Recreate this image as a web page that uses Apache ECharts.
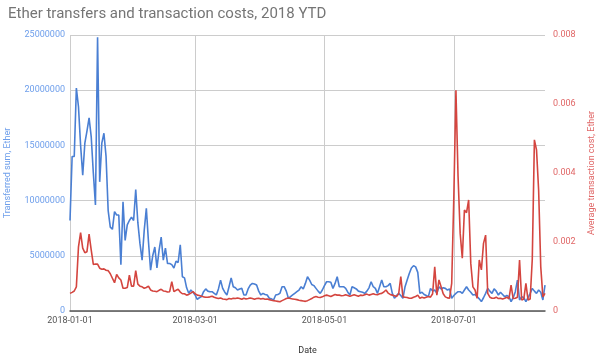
<!DOCTYPE html>
<html>
<head>
<meta charset="utf-8">
<script src="https://cdn.jsdelivr.net/npm/echarts@6/dist/echarts.min.js"></script>
<style>
html,body{margin:0;padding:0;background:#fff;}
#chart{width:600px;height:354px;}
</style>
</head>
<body>
<div id="chart"></div>
<script>
// Daily dates start
var startDate = '2018-01-01';
var tickDates = ['2018-01-01', '2018-03-01', '2018-05-01', '2018-07-01'];

// Transferred sum, Ether (daily)
var transferred = [
  8.2e6, 14.0e6, 14.0e6, 20.2e6, 18.5e6, 15.0e6, 12.3e6, 15.2e6, 16.3e6, 17.5e6,
  15.8e6, 12.5e6, 9.6e6, 24.8e6, 11.7e6, 15.2e6, 16.1e6, 14.0e6, 9.1e6, 7.6e6,
  7.4e6, 9.0e6, 8.7e6, 8.7e6, 4.2e6, 9.9e6, 6.4e6, 7.8e6, 8.2e6, 8.5e6,
  8.2e6, 11.0e6, 8.0e6, 6.1e6, 4.6e6, 7.3e6, 9.3e6, 6.3e6, 3.7e6, 5.0e6,
  5.8e6, 3.9e6, 5.5e6, 6.7e6, 4.6e6, 5.7e6, 4.3e6, 4.3e6, 4.2e6, 3.9e6,
  4.5e6, 4.4e6, 6.0e6, 3.1e6, 3.0e6, 2.1e6, 1.6e6, 1.9e6, 1.7e6, 1.45e6,
  1.06e6, 1.2e6, 1.3e6, 1.75e6, 2.0e6, 1.8e6, 1.75e6, 1.75e6, 1.6e6, 1.45e6,
  2.0e6, 2.8e6, 2.05e6, 1.7e6, 1.45e6, 2.2e6, 3.0e6, 2.2e6, 2.1e6, 1.9e6,
  2.0e6, 2.05e6, 1.45e6, 1.45e6, 2.0e6, 2.35e6, 2.5e6, 2.45e6, 2.35e6, 1.8e6,
  1.45e6, 1.6e6, 1.5e6, 1.45e6, 1.15e6, 1.1e6, 1.0e6, 1.45e6, 1.5e6, 1.6e6,
  2.2e6, 2.2e6, 1.8e6, 1.15e6, 1.3e6, 1.45e6, 1.6e6, 1.75e6, 1.9e6, 2.2e6,
  2.0e6, 2.5e6, 3.1e6, 2.8e6, 2.4e6, 2.3e6, 2.05e6, 1.8e6, 1.6e6, 1.9e6,
  2.3e6, 2.65e6, 2.65e6, 2.6e6, 2.05e6, 2.5e6, 3.1e6, 2.2e6, 2.2e6, 2.2e6,
  2.05e6, 1.7e6, 1.45e6, 2.2e6, 2.1e6, 2.0e6, 1.8e6, 1.75e6, 1.7e6, 1.6e6,
  1.8e6, 2.1e6, 2.65e6, 2.2e6, 2.05e6, 1.6e6, 2.2e6, 2.8e6, 2.2e6, 2.2e6,
  2.3e6, 2.5e6, 1.6e6, 1.15e6, 1.4e6, 1.6e6, 1.4e6, 1.15e6, 2.2e6, 2.8e6,
  3.4e6, 3.9e6, 4.1e6, 4.0e6, 3.5e6, 1.6e6, 1.7e6, 1.5e6, 1.4e6, 1.3e6,
  2.05e6, 1.8e6, 1.9e6, 1.6e6, 2.2e6, 2.0e6, 2.1e6, 2.05e6, 1.9e6, 2.0e6,
  1.15e6, 1.4e6, 1.6e6, 1.75e6, 1.75e6, 1.6e6, 1.9e6, 2.2e6, 1.9e6, 1.7e6,
  1.45e6, 1.5e6, 1.3e6, 1.1e6, 0.85e6, 1.2e6, 1.6e6, 2.05e6, 1.8e6, 1.6e6,
  2.0e6, 1.8e6, 1.45e6, 1.7e6, 1.5e6, 1.3e6, 1.4e6, 1.3e6, 0.85e6, 1.2e6,
  1.75e6, 2.8e6, 1.0e6, 1.3e6, 1.2e6, 0.85e6, 1.2e6, 1.6e6, 2.05e6, 1.8e6,
  1.6e6, 1.9e6, 1.7e6, 1.0e6, 2.35e6
];

// Average transaction cost, Ether (daily)
var avgCost = [
  0.00051, 0.00054, 0.00058, 0.00070, 0.00186, 0.00227, 0.00182, 0.00169, 0.00172, 0.00223,
  0.00177, 0.00135, 0.00136, 0.00136, 0.00124, 0.00121, 0.00122, 0.00118, 0.00117, 0.00108,
  0.00095, 0.00082, 0.00106, 0.00096, 0.00090, 0.00066, 0.00066, 0.00068, 0.00104, 0.00072,
  0.00072, 0.00117, 0.00078, 0.00072, 0.00070, 0.00066, 0.00068, 0.00072, 0.00061, 0.00058,
  0.00057, 0.00056, 0.00060, 0.00063, 0.00058, 0.00057, 0.00055, 0.00056, 0.00085, 0.00056,
  0.00060, 0.00063, 0.00055, 0.00050, 0.00050, 0.00046, 0.00048, 0.00052, 0.00056, 0.00050,
  0.00046, 0.00045, 0.00043, 0.00041, 0.00040, 0.00040, 0.00041, 0.00043, 0.00040, 0.00038,
  0.00036, 0.00038, 0.00035, 0.00034, 0.00033, 0.00036, 0.00035, 0.00037, 0.00036, 0.00038,
  0.00036, 0.00034, 0.00037, 0.00035, 0.00036, 0.00038, 0.00036, 0.00034, 0.00036, 0.00037,
  0.00035, 0.00036, 0.00034, 0.00035, 0.00033, 0.00031, 0.00030, 0.00029, 0.00028, 0.00027,
  0.00030, 0.00033, 0.00036, 0.00038, 0.00036, 0.00035, 0.00034, 0.00033, 0.00031, 0.00030,
  0.00029, 0.00028, 0.00030, 0.00033, 0.00036, 0.00040, 0.00042, 0.00040, 0.00039, 0.00041,
  0.00044, 0.00046, 0.00044, 0.00042, 0.00045, 0.00048, 0.00046, 0.00046, 0.00044, 0.00045,
  0.00047, 0.00045, 0.00043, 0.00045, 0.00047, 0.00045, 0.00043, 0.00046, 0.00045, 0.00047,
  0.00049, 0.00046, 0.00048, 0.00050, 0.00048, 0.00047, 0.00050, 0.00051, 0.00055, 0.00061,
  0.00052, 0.00048, 0.00046, 0.00044, 0.00042, 0.00050, 0.00100, 0.00041, 0.00040, 0.00039,
  0.00037, 0.00037, 0.00040, 0.00042, 0.00046, 0.00037, 0.00040, 0.00038, 0.00040, 0.00042,
  0.00040, 0.00050, 0.00128, 0.00046, 0.00090, 0.00070, 0.00050, 0.00041, 0.00038, 0.00037,
  0.00080, 0.00330, 0.00640, 0.00390, 0.00225, 0.00153, 0.00293, 0.00285, 0.00322, 0.00138,
  0.00070, 0.00061, 0.00037, 0.00148, 0.00119, 0.00196, 0.00220, 0.00051, 0.00040, 0.00037,
  0.00037, 0.00040, 0.00036, 0.00037, 0.00035, 0.00037, 0.00040, 0.00035, 0.00075, 0.00036,
  0.00037, 0.00040, 0.00148, 0.00032, 0.00035, 0.00080, 0.00032, 0.00035, 0.00150, 0.00496,
  0.00467, 0.00350, 0.00128, 0.00041, 0.00051
];

// build category dates
var dates = [];
(function () {
  var d = new Date(startDate + 'T00:00:00Z');
  for (var i = 0; i < transferred.length; i++) {
    var t = new Date(d.getTime() + i * 86400000);
    dates.push(t.toISOString().slice(0, 10));
  }
})();

var FONT = 'Roboto, "Noto Sans", sans-serif';
var BLUE = '#4a7fd3';
var RED = '#d4453f';
var BLUE_TXT = '#6d9eeb';
var RED_TXT = '#e06666';

function isTick(idx, val) { return tickDates.indexOf(val) >= 0; }

var chart = echarts.init(document.getElementById('chart'), null, {renderer: 'canvas'});
chart.setOption({
  animation: false,
  textStyle: {fontFamily: FONT},
  title: {
    text: 'Ether transfers and transaction costs, 2018 YTD',
    left: 3, top: 2,
    textStyle: {fontFamily: FONT, fontSize: 15, fontWeight: 'normal', color: '#757575'}
  },
  grid: {left: 70, right: 55, top: 35, bottom: 43, containLabel: false, outerBoundsMode: 'none'},
  xAxis: {
    type: 'category',
    data: dates,
    boundaryGap: false,
    axisLine: {lineStyle: {color: '#555', width: 1.5}},
    axisTick: {show: false},
    axisLabel: {interval: isTick, color: '#555', fontSize: 9, margin: 5, fontFamily: FONT},
    splitLine: {show: true, interval: isTick, lineStyle: {color: '#cccccc', width: 1}},
    name: 'Date',
    nameLocation: 'middle',
    nameGap: 35,
    nameTextStyle: {color: '#333', fontSize: 9, fontFamily: FONT}
  },
  yAxis: [
    {
      type: 'value',
      min: 0, max: 25000000, interval: 5000000,
      axisLine: {show: false},
      axisTick: {show: false},
      axisLabel: {color: BLUE_TXT, fontSize: 9, margin: 5, fontFamily: FONT,
        formatter: function (v) { return String(v); }},
      splitLine: {show: true, lineStyle: {color: '#cccccc', width: 1}},
      name: 'Transferred sum, Ether',
      nameLocation: 'middle',
      nameRotate: 90,
      nameGap: 58,
      nameTextStyle: {color: BLUE_TXT, fontSize: 9, fontFamily: FONT}
    },
    {
      type: 'value',
      position: 'right',
      min: 0, max: 0.008, interval: 0.002,
      axisLine: {show: false},
      axisTick: {show: false},
      axisLabel: {color: RED_TXT, fontSize: 9, margin: 8, fontFamily: FONT,
        formatter: function (v) { return String(v); }},
      splitLine: {show: false},
      name: 'Average transaction cost, Ether',
      nameLocation: 'middle',
      nameRotate: 90,
      nameGap: 42,
      nameTextStyle: {color: RED_TXT, fontSize: 9, fontFamily: FONT}
    }
  ],
  series: [
    {
      name: 'Transferred sum, Ether',
      type: 'line',
      yAxisIndex: 0,
      data: transferred,
      symbol: 'none',
      lineStyle: {color: BLUE, width: 1.6},
      itemStyle: {color: BLUE}
    },
    {
      name: 'Average transaction cost, Ether',
      type: 'line',
      yAxisIndex: 1,
      data: avgCost,
      symbol: 'none',
      lineStyle: {color: RED, width: 1.6},
      itemStyle: {color: RED}
    }
  ]
});
</script>
</body>
</html>
